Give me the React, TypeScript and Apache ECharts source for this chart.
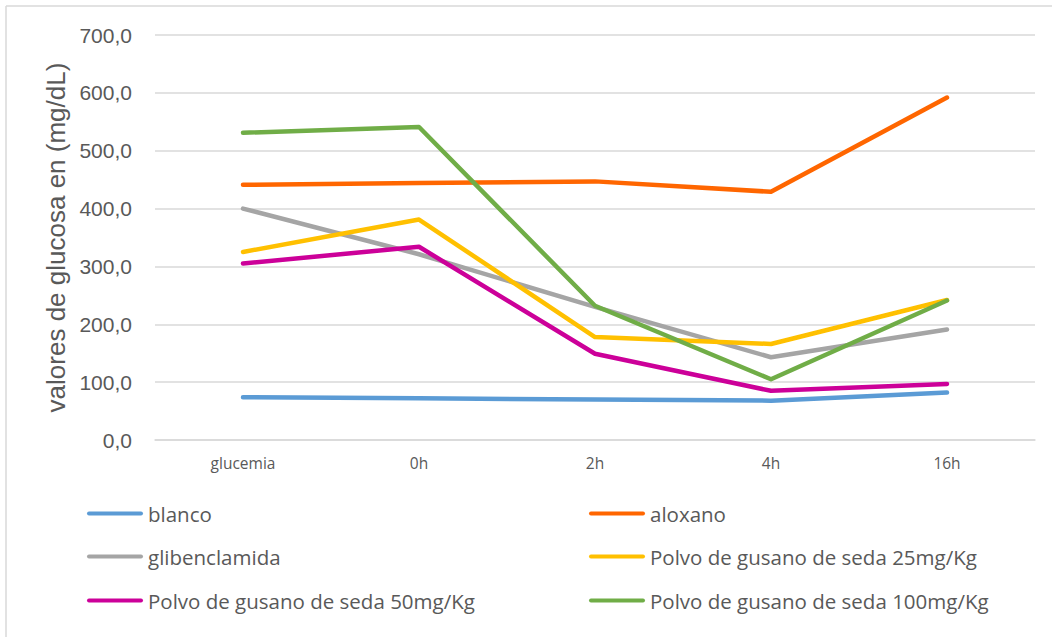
import React, { useEffect, useRef } from "react";
import * as echarts from "echarts";

const categories = ["glucemia", "0h", "2h", "4h", "16h"];
const seriesNames = [
  "blanco",
  "aloxano",
  "glibenclamida",
  "Polvo de gusano de seda 25mg/Kg",
  "Polvo de gusano de seda 50mg/Kg",
  "Polvo de gusano de seda 100mg/Kg",
];
const blanco = [74, 72, 70, 68, 82];
const aloxano = [441, 444, 447, 429, 592];
const glibenclamida = [400, 321, 230, 143, 191];
const polvo25 = [325, 381, 178, 166, 242];
const polvo50 = [305, 334, 149, 85, 97];
const polvo100 = [531, 541, 232, 105, 241];
const seriesValues = [blanco, aloxano, glibenclamida, polvo25, polvo50, polvo100];
const colors = ["#5B9BD5", "#FF6600", "#A5A5A5", "#FFC000", "#CC0099", "#70AD47"];

const legendPos = [
  { left: 87, top: 503 },
  { left: 589, top: 503 },
  { left: 87, top: 546 },
  { left: 589, top: 546 },
  { left: 87, top: 590 },
  { left: 589, top: 590 },
];

export default function App() {
  const ref = useRef<HTMLDivElement>(null);
  useEffect(() => {
    if (!ref.current) return;
    const chart = echarts.init(ref.current, null, { renderer: "svg" });
    chart.setOption({
      animation: false,
      backgroundColor: "#ffffff",
      grid: {
        left: 155,
        right: 17,
        top: 35,
        bottom: 197,
        containLabel: false,
        outerBoundsMode: "none",
      },
      legend: seriesNames.map((n, i) => ({
        data: [{ name: n, icon: "path://M2,0 H54 A2,2 0 0 1 54,4 H2 A2,2 0 0 1 2,0 Z" }],
        left: legendPos[i].left,
        top: legendPos[i].top,
        padding: 0,
        itemWidth: 56,
        itemHeight: 4.5,
        itemGap: 0,
        textStyle: {
          fontFamily: "Open Sans",
          fontSize: 20.5,
          color: "#595959",
          lineHeight: 20,
        },
        selectedMode: false,
      })),
      xAxis: {
        type: "category",
        data: categories,
        boundaryGap: true,
        axisLine: { show: true, lineStyle: { color: "#d9d9d9", width: 1.5 } },
        axisTick: { show: false },
        axisLabel: {
          fontFamily: "Open Sans",
          fontSize: 15.5,
          color: "#595959",
          margin: 15,
        },
      },
      yAxis: {
        type: "value",
        min: 0,
        max: 700,
        interval: 100,
        name: "valores de glucosa en (mg/dL)",
        nameLocation: "middle",
        nameGap: 83,
        nameTextStyle: {
          fontFamily: "Liberation Sans",
          fontSize: 26,
          color: "#595959",
        },
        axisLine: { show: false },
        axisTick: { show: false },
        axisLabel: {
          fontFamily: "Liberation Sans",
          fontSize: 21,
          color: "#595959",
          margin: 23,
          formatter: (v: number) => v.toFixed(1).replace(".", ","),
        },
        splitLine: { lineStyle: { color: "#d9d9d9", width: 1.5 } },
      },
      series: seriesNames.map((n, i) => ({
        name: n,
        type: "line",
        data: seriesValues[i],
        symbol: "none",
        color: colors[i],
        itemStyle: { color: colors[i] },
        lineStyle: { width: 4.5, color: colors[i], cap: "round", join: "round" },
      })),
      graphic: [
        {
          type: "line",
          shape: { x1: 6, y1: 6, x2: 1052, y2: 6 },
          style: { stroke: "#d9d9d9", lineWidth: 1.5 },
        },
        {
          type: "line",
          shape: { x1: 6, y1: 6, x2: 6, y2: 637 },
          style: { stroke: "#d9d9d9", lineWidth: 1.5 },
        },
      ],
    });
    return () => chart.dispose();
  }, []);
  return (
    <div
      ref={ref}
      style={{ position: "absolute", left: 0, top: 0, width: 1052, height: 637 }}
    />
  );
}
